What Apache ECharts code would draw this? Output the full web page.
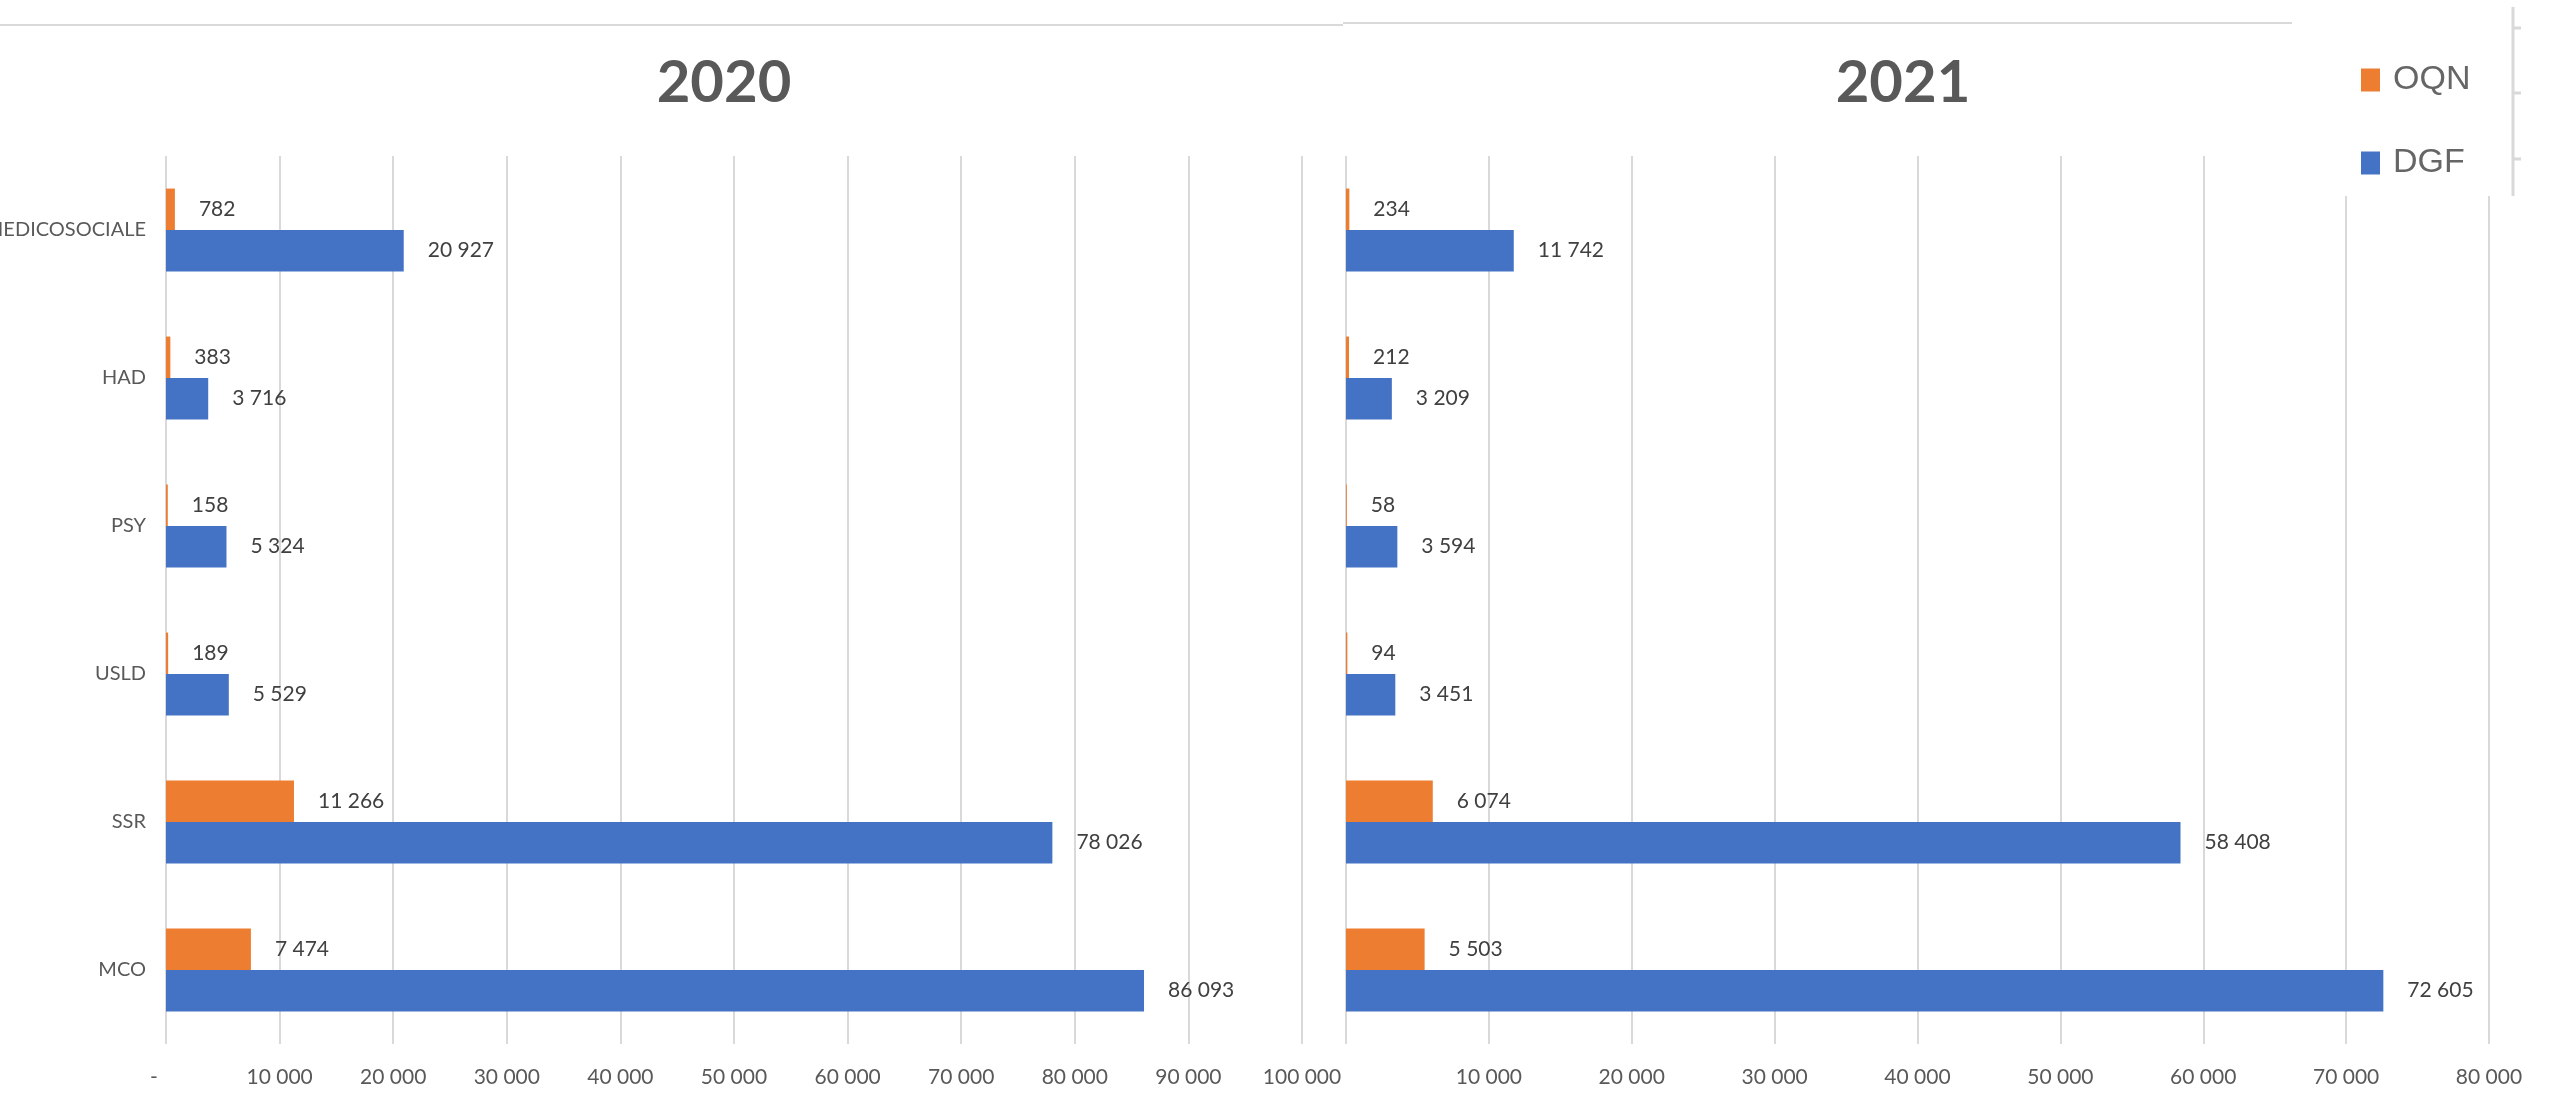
<!DOCTYPE html>
<html><head><meta charset="utf-8">
<script src="https://cdn.jsdelivr.net/npm/echarts@6/dist/echarts.min.js"></script>
<style>html,body{margin:0;padding:0;background:#fff}#c{width:2552px;height:1107px}</style>
</head><body><div id="c"></div>
<script>
const categories = ['MCO', 'SSR', 'USLD', 'PSY', 'HAD', 'MEDICOSOCIALE'];
const seriesNames = ['OQN', 'DGF'];
const panelTitles = ['2020', '2021'];
const oqn2020 = [7474, 11266, 189, 158, 383, 782];
const dgf2020 = [86093, 78026, 5529, 5324, 3716, 20927];
const oqn2021 = [5503, 6074, 94, 58, 212, 234];
const dgf2021 = [72605, 58408, 3451, 3594, 3209, 11742];
const axisMax = [100000, 80000];
const axisStep = 10000;

const FONT = 'Lato';
const GRID = '#d9d9d9';
const TXT = '#595959';
const fmt = v => String(Math.round(v)).replace(/\B(?=(\d{3})+(?!\d))/g, ' ');

function xAxisFor(i) {
  return {
    type: 'value', gridIndex: i, min: 0, max: axisMax[i], interval: axisStep,
    axisLine: {show: false}, axisTick: {show: false},
    splitLine: {show: true, lineStyle: {color: GRID, width: 2}},
    axisLabel: {
      fontFamily: FONT, fontSize: 21, color: TXT, margin: 23,
      formatter: v => v === 0 ? (i === 0 ? '{d|-}' : '') : fmt(v),
      rich: {d: {fontFamily: FONT, fontSize: 21, color: TXT, padding: [0, 24, 0, 0]}}
    }
  };
}
function yAxisFor(i) {
  return {
    type: 'category', gridIndex: i, data: categories,
    axisLine: {show: false}, axisTick: {show: false}, splitLine: {show: false},
    axisLabel: {show: i === 0, fontFamily: FONT, fontSize: 20, color: TXT, margin: 20}
  };
}
function barSeries(name, data, i, color) {
  return {
    name, type: 'bar', xAxisIndex: i, yAxisIndex: i, data,
    barGap: '0%', barCategoryGap: '44%',
    itemStyle: {color},
    label: {show: true, position: 'right', distance: 24, fontFamily: FONT, fontSize: 21,
      color: '#404040', formatter: p => fmt(p.value)}
  };
}

const chart = echarts.init(document.getElementById('c'));
chart.setOption({
  animation: false,
  backgroundColor: '#fff',
  grid: [
    {left: 166, top: 156, width: 1136, height: 888, containLabel: false, outerBoundsMode: 'none'},
    {left: 1346, top: 156, width: 1143, height: 888, containLabel: false, outerBoundsMode: 'none'}
  ],
  xAxis: [xAxisFor(0), xAxisFor(1)],
  yAxis: [yAxisFor(0), yAxisFor(1)],
  legend: {
    data: seriesNames, orient: 'vertical', left: 2361, top: 63, padding: 0,
    itemWidth: 19, itemHeight: 23, itemGap: 49, icon: 'rect',
    textStyle: {fontFamily: 'Liberation Sans', fontSize: 34, color: '#666666', padding: [0, 0, 0, 8]}
  },
  series: [
    barSeries(seriesNames[0], oqn2020, 0, '#ED7D31'),
    barSeries(seriesNames[1], dgf2020, 0, '#4472C4'),
    barSeries(seriesNames[0], oqn2021, 1, '#ED7D31'),
    barSeries(seriesNames[1], dgf2021, 1, '#4472C4')
  ],
  graphic: [
    {type: 'line', z: 1, shape: {x1: 0, y1: 25, x2: 1343, y2: 25}, style: {stroke: GRID, lineWidth: 2}},
    {type: 'line', z: 1, shape: {x1: 1343, y1: 23, x2: 2292, y2: 23}, style: {stroke: GRID, lineWidth: 2}},
    {type: 'rect', z: 3, shape: {x: 2292, y: 0, width: 220, height: 196}, style: {fill: '#fff'}},
    {type: 'line', z: 3, shape: {x1: 2513, y1: 7, x2: 2513, y2: 196}, style: {stroke: GRID, lineWidth: 3}},
    {type: 'line', z: 3, shape: {x1: 2513, y1: 28, x2: 2521, y2: 28}, style: {stroke: GRID, lineWidth: 3}},
    {type: 'line', z: 3, shape: {x1: 2513, y1: 93, x2: 2521, y2: 93}, style: {stroke: GRID, lineWidth: 3}},
    {type: 'line', z: 3, shape: {x1: 2513, y1: 159, x2: 2521, y2: 159}, style: {stroke: GRID, lineWidth: 3}},
    {type: 'text', z: 5, x: 724, y: 83, style: {text: panelTitles[0], fontFamily: FONT, fontWeight: 'bold', fontSize: 58, fill: TXT, textAlign: 'center', textVerticalAlign: 'middle'}},
    {type: 'text', z: 5, x: 1903, y: 83, style: {text: panelTitles[1], fontFamily: FONT, fontWeight: 'bold', fontSize: 58, fill: TXT, textAlign: 'center', textVerticalAlign: 'middle'}}
  ]
});
</script></body></html>
